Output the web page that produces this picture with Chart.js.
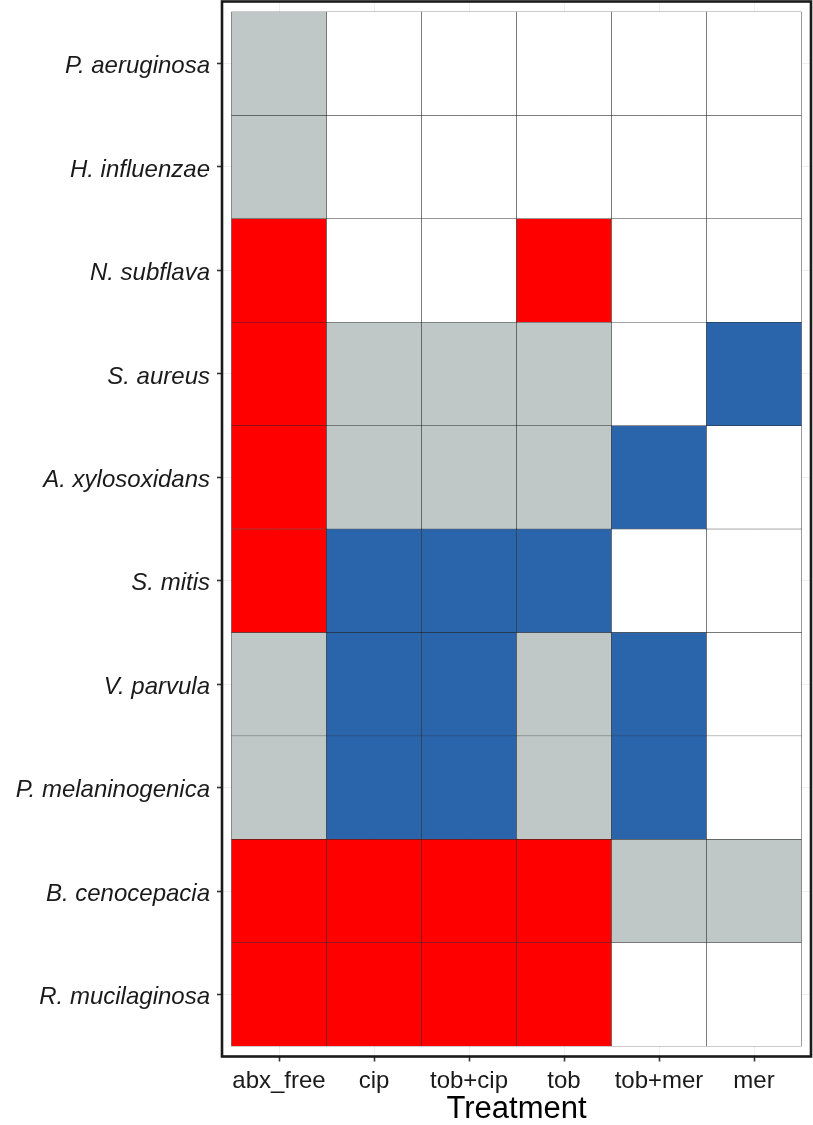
<!DOCTYPE html>
<html><head><meta charset="utf-8">
<script src="https://cdn.jsdelivr.net/npm/chart.js@4/dist/chart.umd.min.js"></script>
<style>html,body{margin:0;padding:0;background:#fff}#wrap{width:813px;height:1125px}</style>
</head><body><div id="wrap"><canvas id="c" width="813" height="1125"></canvas></div>
<script>
const treatments = ['abx_free','cip','tob+cip','tob','tob+mer','mer'];
const species = ['P. aeruginosa','H. influenzae','N. subflava','S. aureus','A. xylosoxidans','S. mitis','V. parvula','P. melaninogenica','B. cenocepacia','R. mucilaginosa'];
// status codes per species row (columns follow treatments)
const status_P_aeruginosa     = ['G','W','W','W','W','W'];
const status_H_influenzae     = ['G','W','W','W','W','W'];
const status_N_subflava       = ['R','W','W','R','W','W'];
const status_S_aureus         = ['R','G','G','G','W','B'];
const status_A_xylosoxidans   = ['R','G','G','G','B','W'];
const status_S_mitis          = ['R','B','B','B','W','W'];
const status_V_parvula        = ['G','B','B','G','B','W'];
const status_P_melaninogenica = ['G','B','B','G','B','W'];
const status_B_cenocepacia    = ['R','R','R','R','G','G'];
const status_R_mucilaginosa   = ['R','R','R','R','W','W'];
const statusRows = [status_P_aeruginosa,status_H_influenzae,status_N_subflava,status_S_aureus,status_A_xylosoxidans,status_S_mitis,status_V_parvula,status_P_melaninogenica,status_B_cenocepacia,status_R_mucilaginosa];

const palette = {R:'#FE0000', G:'#BFC7C7', B:'#2A65AC', W:'#FFFFFF'};

const datasets = statusRows.map((row, r) => ({
  label: species[r],
  data: row.map((s, c) => ({x: c + 0.5, y: [r, r + 1]})),
  backgroundColor: row.map(s => palette[s]),
  borderColor: 'rgba(20,20,20,0.85)',
  borderWidth: 0.5,
  borderSkipped: false,
  grouped: false,
  barPercentage: 1,
  categoryPercentage: 1
}));

const panelBorder = {
  id: 'panelBorder',
  afterDraw(chart) {
    const {ctx, chartArea: a} = chart;
    ctx.save();
    ctx.strokeStyle = '#1a1a1a';
    ctx.lineWidth = 2.6;
    ctx.strokeRect(a.left, a.top, a.right - a.left, a.bottom - a.top);
    ctx.restore();
  }
};

const FONT = "'Liberation Sans', Arial, Helvetica, sans-serif";

new Chart(document.getElementById('c'), {
  type: 'bar',
  data: { datasets },
  options: {
    responsive: false,
    animation: false,
    devicePixelRatio: 1,
    layout: { padding: { top: 1.5, right: 2, left: 0, bottom: 0 } },
    plugins: { legend: { display: false }, tooltip: { enabled: false } },
    scales: {
      x: {
        type: 'linear', min: -0.1, max: 6.1, offset: false,
        afterBuildTicks(scale) { scale.ticks = treatments.map((t, i) => ({value: i + 0.5})); },
        afterFit(scale) { scale.height = 68.5; scale.paddingLeft = 0; scale.paddingRight = 0; },
        ticks: {
          autoSkip: false, maxRotation: 0, minRotation: 0, padding: 5,
          color: '#1a1a1a', font: { family: FONT, size: 24 },
          callback: (v) => treatments[Math.round(v - 0.5)]
        },
        grid: { offset: false, color: '#EFEFEF', lineWidth: 1, tickColor: '#333333', tickLength: 5, tickWidth: 1.6 },
        border: { display: false },
        title: { display: true, text: 'Treatment', color: '#000', font: { family: FONT, size: 31 }, padding: { top: 0, bottom: -3 } }
      },
      y: {
        type: 'linear', min: -0.1, max: 10.1, reverse: true, offset: false,
        afterBuildTicks(scale) { scale.ticks = species.map((s, i) => ({value: i + 0.5})); },
        afterFit(scale) { scale.width = 222; scale.paddingTop = 0; scale.paddingBottom = 0; },
        ticks: {
          autoSkip: false, padding: 7, labelOffset: 3,
          color: '#1a1a1a', font: { family: FONT, size: 24, style: 'italic' },
          callback: (v) => species[Math.round(v - 0.5)]
        },
        grid: { color: '#EFEFEF', lineWidth: 1, tickColor: '#333333', tickLength: 5, tickWidth: 1.6 },
        border: { display: false }
      }
    }
  },
  plugins: [panelBorder]
});
</script></body></html>
